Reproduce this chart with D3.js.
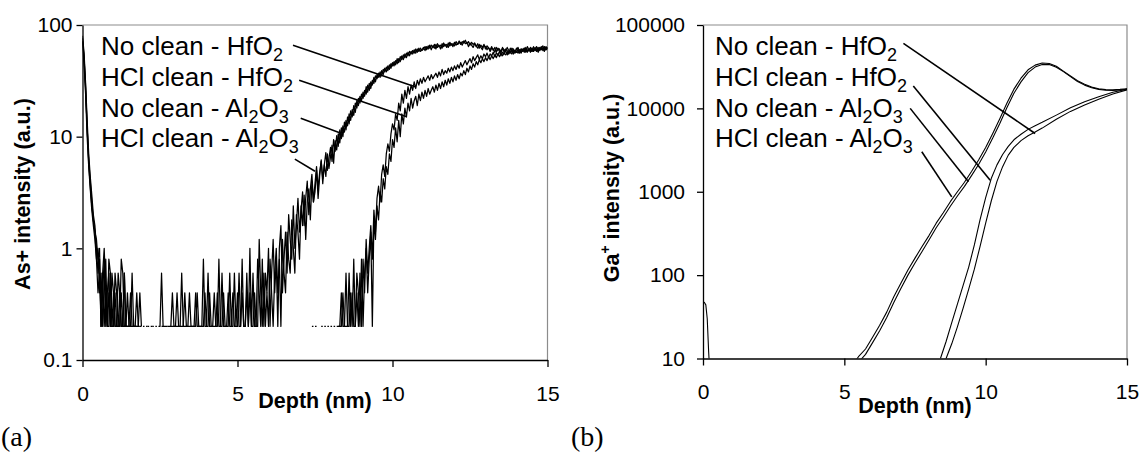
<!DOCTYPE html>
<html>
<head>
<meta charset="utf-8">
<script src="https://cdn.jsdelivr.net/npm/d3@7"></script>
<style>
body{margin:0;background:#fff}
text{font-family:"Liberation Sans",Arial,sans-serif;fill:#000}
.tick text{font-size:21px}
.axis-title{font-weight:bold;font-size:21.5px}
.legend{font-size:26px}
.panel-tag{font-family:"Liberation Serif","Times New Roman",serif;font-size:28px}
</style>
</head>
<body>
<svg id="chart" width="1140" height="462"></svg>
<script>
// ---- panel (a): As+ profiles, one value every 0.05 nm from 0 to 15 nm (one row = 1 nm) ----
let asStep = 0.05;
let asNoAl = [
  76, 52, 28, 12, 6.2, 4.0, 2.6, 1.8, 1.4, 1.2, 0.8, 1.0, 0.2, 0.6, 1.0, 0.4, 0.2, 0.8, 0.6, 0.2,
  0.2, 0.6, 0.4, 0.2, 0.2, 0.8, 0.6, 0.2, 0.2, 0.4, 0.2, 0.2, 0.6, 0.2, 0.2, 0.4, 0.2, 0.2, null, 0.2,
  0.2, null, 0.2, 0.2, null, 0.2, 0.2, null, null, 0.2, 0.2, 0.6, 0.2, null, null, 0.2, 0.2, 0.2, 0.2, 0.2,
  0.2, 0.4, 0.2, 0.2, 0.2, 0.2, 0.4, 0.2, 0.2, 0.2, 0.2, 0.2, 0.2, 0.2, 0.4, 0.2, 0.2, 0.2, 0.8, 0.2,
  0.2, 0.2, 0.4, 0.2, 0.2, 0.2, 0.2, 0.4, 0.2, 0.2, 0.6, 0.2, 0.2, 0.2, 0.4, 0.2, 0.2, 0.2, 0.6, 0.2,
  0.4, 0.2, 0.2, 0.8, 0.2, 0.2, 0.6, 0.2, 0.4, 0.2, 0.2, 0.4, 0.2, 0.2, 1.2, 0.4, 0.2, 0.6, 0.2, 0.4,
  0.2, 0.8, 0.4, 0.2, 0.6, 1.0, 0.4, 0.8, 0.2, 1.2, 0.6, 0.4, 1.4, 0.8, 0.6, 1.8, 1.0, 0.6, 2.0, 1.4,
  0.8, 2.4, 1.6, 3.0, 1.2, 2.6, 3.4, 1.8, 4.0, 2.6, 3.2, 5.0, 2.8, 4.4, 6.2, 3.8, 5.6, 4.4, 7.0, 5.2,
  6.6, 8.4, 5.8, 9.2, 7.6, 10.6, 8.8, 12, 10, 13.5, 11.5, 15, 13, 17, 15, 19, 16.5, 21, 19, 23,
  21, 25, 23, 28, 25, 30, 27, 32, 30, 35, 33, 37, 34, 39, 36, 41, 38, 43, 40, 45,
  43, 47, 44, 50, 46, 52, 49, 54, 51, 56, 53, 58, 55, 59, 56, 61, 57, 62, 58, 60,
  63, 59, 64, 61, 66, 60, 65, 62, 67, 63, 66, 61, 68, 64, 67, 63, 69, 65, 68, 64,
  70, 66, 68, 72, 67, 71, 69, 73, 68, 71, 66, 70, 67, 69, 64, 68, 62, 66, 63, 67,
  61, 65, 62, 60, 64, 59, 63, 57, 62, 60, 58, 63, 57, 61, 59, 56, 62, 58, 61, 57,
  62, 58, 60, 56, 61, 59, 63, 57, 60, 62, 58, 64, 59, 61, 57, 63, 60, 62, 58, 64,
  61];
let asHclAl = [
  70, 45, 24, 10, 5.4, 3.4, 2.2, 1.6, 1.2, 0.8, 1.0, 0.4, 0.6, 0.2, 0.4, 0.8, 0.2, 0.4, 0.2, 0.6,
  0.4, 0.2, 0.2, 0.6, 0.4, 0.2, 0.2, 0.6, 0.2, 0.2, 0.2, 0.4, 0.2, 0.2, 0.2, 0.2, 0.2, 0.4, 0.2, null,
  null, 0.2, 0.2, null, 0.2, 0.2, null, 0.2, 0.2, null, null, 0.2, 0.2, 0.2, 0.2, 0.2, null, 0.2, 0.4, 0.2,
  0.2, 0.2, 0.2, 0.2, 0.6, 0.2, 0.2, 0.2, 0.2, 0.4, 0.2, 0.2, 0.2, 0.4, 0.2, 0.2, 0.2, 0.2, 0.2, 0.4,
  0.2, 0.6, 0.2, 0.2, 0.2, 0.4, 0.2, 0.2, 0.8, 0.2, 0.2, 0.4, 0.2, 0.2, 0.2, 0.6, 0.2, 0.4, 0.2, 0.2,
  0.2, 0.6, 0.2, 0.4, 0.2, 0.2, 0.4, 0.2, 1.0, 0.2, 0.6, 0.2, 0.2, 0.8, 0.4, 0.2, 0.8, 0.2, 0.6, 0.4,
  1.0, 0.2, 0.6, 1.2, 0.4, 0.8, 0.2, 1.0, 1.6, 0.4, 0.8, 1.4, 0.6, 2.0, 1.2, 0.8, 2.4, 1.0, 1.6, 2.8,
  1.4, 2.2, 3.2, 1.6, 2.8, 4.0, 2.0, 3.4, 4.6, 2.6, 3.8, 5.4, 3.4, 4.8, 6.0, 4.2, 5.6, 7.2, 5.0, 6.4,
  8.0, 6.0, 9.4, 7.4, 10.2, 8.2, 11.5, 9.6, 12.5, 11, 14, 12.5, 16, 14, 17.5, 15.5, 20, 18, 22, 20,
  24, 22, 26, 24, 29, 26, 31, 29, 34, 31, 36, 34, 38, 35, 40, 38, 42, 39, 44, 41,
  46, 43, 48, 45, 50, 47, 53, 49, 55, 51, 57, 53, 58, 55, 60, 56, 61, 58, 62, 59,
  61, 64, 60, 65, 62, 66, 63, 67, 61, 68, 64, 66, 62, 69, 65, 67, 63, 70, 66, 68,
  65, 71, 67, 69, 70, 66, 72, 68, 70, 64, 69, 66, 63, 68, 65, 62, 67, 63, 60, 66,
  64, 60, 63, 58, 62, 61, 57, 63, 59, 61, 56, 62, 60, 58, 63, 59, 57, 62, 60, 58,
  60, 63, 57, 61, 59, 62, 58, 64, 60, 57, 62, 59, 63, 58, 61, 60, 64, 59, 62, 60,
  63];
let asNoHf = [
  80, 56, 30, 14, 7.0, 4.4, 3.0, 2.0, 1.6, 1.0, 0.6, 0.8, 0.2, 0.4, 0.8, 0.2, 0.4, 0.6, 0.2, 0.2,
  0.2, 0.4, 0.2, 0.2, 0.4, 0.2, 0.2, 0.6, 0.2, 0.2, 0.2, 0.2, null, 0.2, 0.2, null, null, 0.2, 0.2, null,
  null, null, null, null, null, null, null, null, null, null, null, null, null, null, null, null, null, null, null, null,
  null, null, null, null, null, null, null, null, null, null, null, null, null, null, null, null, null, null, null, null,
  null, null, null, null, null, null, null, null, null, null, null, null, null, null, null, null, null, null, null, null,
  null, null, null, null, null, null, null, null, null, null, null, null, null, null, null, null, null, null, null, null,
  null, null, null, null, null, null, null, null, null, null, null, null, null, null, null, null, null, null, null, null,
  null, null, null, null, null, null, null, null, null, null, 0.2, 0.2, null, null, 0.2, 0.2, null, null, 0.2, 0.2,
  null, null, 0.2, 0.2, null, 0.2, 0.2, 0.4, 0.2, 0.2, 0.6, 0.2, 0.2, 0.4, 0.2, 0.8, 0.2, 0.4, 0.2, 0.6,
  0.2, 0.8, 0.4, 1.2, 0.6, 1.0, 1.6, 0.8, 2.2, 1.4, 2.8, 3.6, 2.6, 4.6, 5.6, 4.4, 7.0, 8.6, 7.4, 10.6,
  13, 11.5, 16, 14, 20, 17, 24, 20, 26, 22, 28, 24, 29, 26, 31, 27, 32, 29, 33, 30,
  34, 31, 33, 35, 32, 36, 33, 35, 37, 34, 38, 35, 40, 36, 39, 37, 41, 38, 42, 39,
  43, 40, 44, 41, 46, 42, 45, 48, 44, 47, 50, 46, 52, 48, 51, 54, 49, 53, 50, 55,
  52, 56, 51, 55, 53, 57, 52, 56, 54, 58, 53, 57, 55, 59, 54, 58, 56, 60, 55, 59,
  57, 60, 56, 61, 58, 62, 57, 60, 59, 63, 58, 61, 60, 64, 59, 62, 61, 65, 60, 63,
  62];
let asHclHf = [
  72, 50, 26, 12, 5.8, 3.6, 2.4, 1.8, 1.4, 0.8, 0.4, 0.6, 0.2, 0.6, 0.2, 0.4, 0.2, 0.2, 0.6, 0.2,
  0.4, 0.2, 0.2, 0.2, 0.2, 0.4, 0.2, 0.2, 0.2, 0.2, null, 0.2, 0.2, null, 0.2, 0.2, null, null, null, null,
  null, null, null, null, null, null, null, null, null, null, null, null, null, null, null, null, null, null, null, null,
  null, null, null, null, null, null, null, null, null, null, null, null, null, null, null, null, null, null, null, null,
  null, null, null, null, null, null, null, null, null, null, null, null, null, null, null, null, null, null, null, null,
  null, null, null, null, null, null, null, null, null, null, null, null, null, null, null, null, null, null, null, null,
  null, null, null, null, null, null, null, null, null, null, null, null, null, null, null, null, null, null, null, null,
  null, null, null, null, null, null, null, null, 0.2, 0.2, null, null, null, null, null, null, 0.2, 0.2, null, null,
  0.2, 0.2, null, null, 0.2, 0.2, 0.2, 0.2, 0.4, 0.2, 0.2, 0.2, 0.6, 0.2, 0.4, 0.2, 0.2, 0.6, 0.4, 0.2,
  0.8, 0.2, 0.6, 1.0, 0.4, 0.8, 1.4, 0.2, 1.8, 1.2, 2.4, 1.8, 3.2, 2.6, 4.2, 3.4, 5.4, 4.6, 7.0, 6.0,
  9.4, 8.0, 12, 9.0, 14, 10, 16, 13, 18, 15, 20, 17, 22, 18, 21, 23, 19, 24, 21, 25,
  22, 26, 23, 27, 24, 26, 28, 25, 29, 26, 30, 27, 31, 28, 32, 29, 33, 30, 34, 31,
  35, 32, 36, 33, 37, 35, 39, 36, 41, 38, 43, 40, 45, 42, 47, 44, 49, 46, 50, 47,
  51, 48, 52, 49, 53, 50, 54, 51, 55, 52, 56, 53, 56, 54, 57, 55, 58, 55, 59, 56,
  58, 56, 59, 57, 60, 57, 61, 58, 60, 59, 62, 58, 61, 60, 63, 59, 62, 61, 64, 60,
  61];

// ---- panel (b): Ga+ profiles ----
let gaSurfDepth = [0, 0.05, 0.1, 0.15, 0.2, 0.25, 0.3];
let gaSurf = [48, 47, 44, 30, 12, 6, 3];
let gaAlDepth = [5.25, 5.5, 5.75, 6.0, 6.25, 6.5, 6.75, 7.0, 7.25, 7.5, 7.75, 8.0,
  8.25, 8.5, 8.75, 9.0, 9.25, 9.5, 9.75, 10.0, 10.25, 10.5, 10.75, 11.0, 11.25,
  11.5, 11.75, 12.0, 12.25, 12.5, 12.75, 13.0, 13.25, 13.5, 13.75, 14.0, 14.25,
  14.5, 14.75, 15.0];
let gaNoAl = [8, 10.5, 13, 18, 25, 36, 55, 80, 115, 160, 220, 300, 420, 560, 760,
  1000, 1300, 1750, 2400, 3400, 5000, 7500, 11500, 17000, 23000, 29000, 33000,
  35000, 34500, 32000, 28000, 24500, 21500, 19500, 18000, 17200, 16800, 16700,
  16900, 17200];
let gaHclAl = [6.5, 9, 11.2, 15.5, 21.5, 31, 47, 69, 100, 140, 192, 265, 370, 495, 670,
  890, 1160, 1560, 2120, 3000, 4400, 6600, 10200, 15200, 20800, 26800, 31300,
  33500, 33600, 31200, 27600, 24000, 21000, 19000, 17700, 16900, 16500, 16400,
  16600, 16900];
let gaHfDepth = [8.4, 8.6, 8.8, 9.0, 9.2, 9.4, 9.6, 9.8, 10.0, 10.2, 10.4, 10.6,
  10.8, 11.0, 11.25, 11.5, 11.75, 12.0, 12.5, 13.0, 13.5, 14.0, 14.5, 15.0];
let gaNoHf = [10, 16, 27, 45, 75, 125, 230, 460, 850, 1450, 2100, 2800, 3500, 4200,
  4900, 5600, 6200, 6800, 8300, 10200, 12000, 13800, 15600, 17000];
let gaHclHf = [6, 10, 15, 24, 40, 68, 118, 220, 420, 780, 1330, 2000, 2750, 3400,
  4100, 4700, 5200, 5800, 7400, 9200, 11000, 12900, 14900, 16700];

// legend labels (same order in both panels)
let labels = [
  ["No clean - HfO", ["2"]],
  ["HCl clean - HfO", ["2"]],
  ["No clean - Al", ["2", "O", "3"]],
  ["HCl clean - Al", ["2", "O", "3"]]
];
// leader lines: [depth, value] at label end -> [depth, value] on the curve
let leadersA = [
  [[6.79, 66], [10.73, 28]],
  [[6.99, 32], [10.46, 15.1]],
  [[7.04, 14.6], [8.36, 10.7]],
  [[6.85, 6.3], [7.5, 4.9]]
];
let leadersB = [
  [[7.09, 60300], [11.75, 5000]],
  [[7.44, 18500], [10.16, 1377]],
  [[7.33, 10000], [9.39, 1316]],
  [[7.74, 3013], [8.80, 869]]
];
let depthTicks = [0, 5, 10, 15];
let asTicks = [0.1, 1, 10, 100];
let gaTicks = [10, 100, 1000, 10000, 100000];

function gridSeries(vals){
  return vals.map((v, i) => ({d: i * asStep, v: v}));
}
function zipSeries(depths, vals){
  return depths.map((d, i) => ({d: d, v: vals[i]}));
}

let svg = d3.select("#chart");
svg.append("rect").attr("width", 1140).attr("height", 462).attr("fill", "#fff");

function drawPanel(p){
  let x = d3.scaleLinear().domain([0, 15]).range([p.left, p.right]);
  let y = d3.scaleLog().domain(p.yDomain).range([p.bottom, p.top]);
  let g = svg.append("g");
  let clipId = "clip-" + p.id;
  g.append("clipPath").attr("id", clipId).append("rect")
    .attr("x", p.left).attr("y", p.top)
    .attr("width", p.right - p.left).attr("height", p.bottom - p.top);

  // grey frame top / right
  g.append("path")
    .attr("d", "M" + p.left + "," + p.top + "H" + p.right + "V" + p.bottom)
    .attr("fill", "none").attr("stroke", "#8c8c8c").attr("stroke-width", 1.2);

  let line = d3.line()
    .defined(d => d.v != null)
    .x(d => x(d.d)).y(d => y(d.v));
  let curves = g.append("g").attr("clip-path", "url(#" + clipId + ")");
  p.series.forEach(s => {
    curves.append("path").datum(s)
      .attr("fill", "none").attr("stroke", "#000")
      .attr("stroke-width", p.lineWidth).attr("stroke-linejoin", "round")
      .attr("d", line);
  });

  // axes
  let ax = g.append("g")
    .attr("transform", "translate(0," + p.bottom + ")")
    .call(d3.axisBottom(x).tickValues(depthTicks).tickSizeInner(7).tickSizeOuter(0)
      .tickPadding(19).tickFormat(d3.format("d")));
  let ay = g.append("g")
    .attr("transform", "translate(" + p.left + ",0)")
    .call(d3.axisLeft(y).tickValues(p.yTicks).tickSizeInner(6).tickSizeOuter(0)
      .tickPadding(p.yPad).tickFormat(d => String(d)));
  [ax, ay].forEach(a => {
    a.attr("font-size", null).attr("font-family", null);
    a.select(".domain").attr("stroke", "#000").attr("stroke-width", 1.3);
    a.selectAll(".tick line").attr("stroke", "#000").attr("stroke-width", 1.3);
  });

  // legend labels
  labels.forEach((lab, i) => {
    let t = g.append("text").attr("class", "legend")
      .attr("x", p.legendX).attr("y", p.legendY[i]);
    t.append("tspan").text(lab[0]);
    lab[1].forEach((s, k) => {
      let isSub = (k % 2 === 0);
      t.append("tspan")
        .attr("dy", isSub ? 6 : -6)
        .attr("font-size", isSub ? 18 : 26)
        .text(s);
    });
  });
  // leader lines
  p.leaders.forEach(l => {
    g.append("line")
      .attr("x1", x(l[0][0])).attr("y1", y(l[0][1]))
      .attr("x2", x(l[1][0])).attr("y2", y(l[1][1]))
      .attr("stroke", "#000").attr("stroke-width", 1.6);
  });

  // axis titles
  g.append("text").attr("class", "axis-title")
    .attr("x", p.xTitleX).attr("y", p.xTitleY).attr("text-anchor", "middle")
    .text("Depth (nm)");
  let yt = g.append("text").attr("class", "axis-title")
    .attr("transform", "translate(" + p.yTitleX + "," + p.yTitleY + ") rotate(-90)")
    .attr("text-anchor", "middle");
  p.yTitle.forEach(part => {
    yt.append("tspan")
      .attr("dy", part[1]).attr("font-size", part[2])
      .text(part[0]);
  });
  g.append("text").attr("class", "panel-tag")
    .attr("x", p.tagX).attr("y", 446).text(p.tag);
}

drawPanel({
  id: "a", left: 82.5, right: 547.5, top: 25, bottom: 360,
  yDomain: [0.1, 100], yTicks: asTicks, yPad: 4, lineWidth: 1.25,
  series: [gridSeries(asNoAl), gridSeries(asHclAl), gridSeries(asNoHf), gridSeries(asHclHf)],
  legendX: 101, legendY: [55, 86, 117, 147],
  leaders: leadersA,
  xTitleX: 315, xTitleY: 408,
  yTitleX: 30, yTitleY: 194,
  yTitle: [["As+ intensity (a.u.)", 0, null]],
  tag: "(a)", tagX: 1
});

drawPanel({
  id: "b", left: 703, right: 1127, top: 25, bottom: 358.5,
  yDomain: [10, 100000], yTicks: gaTicks, yPad: 12, lineWidth: 1.1,
  series: [zipSeries(gaSurfDepth, gaSurf), zipSeries(gaAlDepth, gaNoAl),
    zipSeries(gaAlDepth, gaHclAl), zipSeries(gaHfDepth, gaNoHf), zipSeries(gaHfDepth, gaHclHf)],
  legendX: 715, legendY: [55, 86, 117, 147],
  leaders: leadersB,
  xTitleX: 915, xTitleY: 413,
  yTitleX: 619, yTitleY: 188,
  yTitle: [["Ga", 0, null], ["+", -9, 14], [" intensity (a.u.)", 9, null]],
  tag: "(b)", tagX: 571
});
</script>
</body>
</html>
